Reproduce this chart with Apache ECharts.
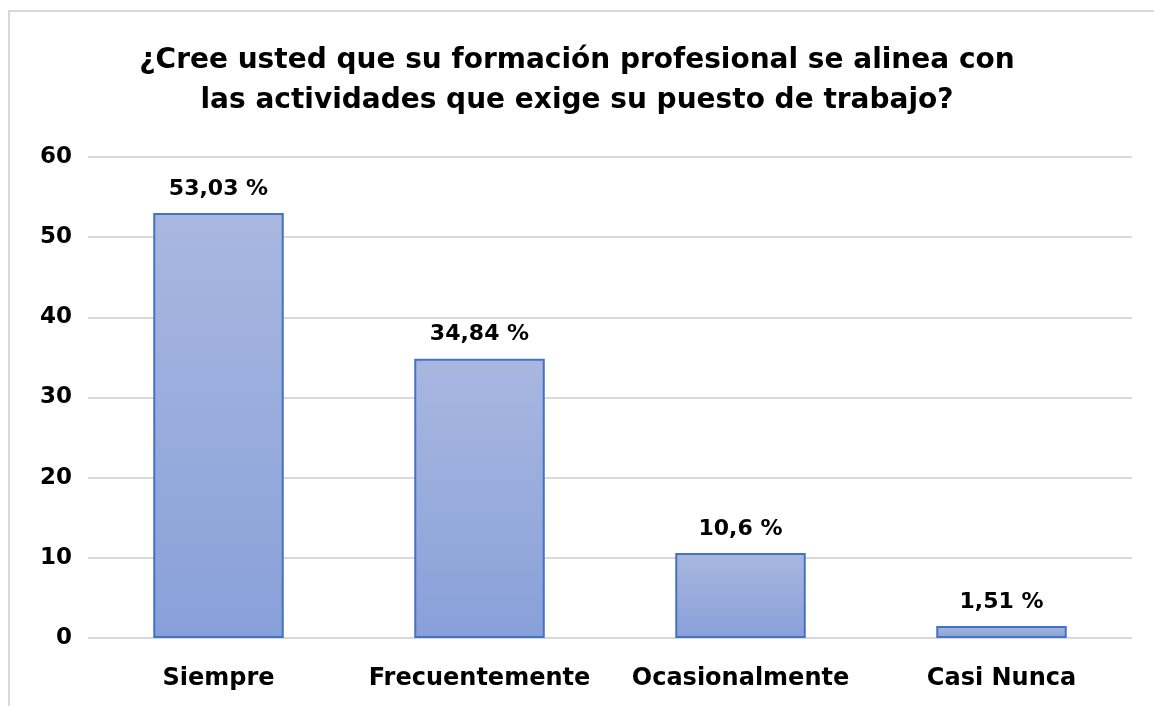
<!DOCTYPE html>
<html>
<head>
<meta charset="utf-8">
<script src="https://cdn.jsdelivr.net/npm/echarts@6/dist/echarts.min.js"></script>
<style>
  html, body { margin: 0; padding: 0; background: #fff; overflow: hidden; }
  #frame { position: absolute; left: 8px; top: 10px; width: 1200px; height: 760px; border: 2px solid #d9d9d9; box-sizing: border-box; }
  #chart { position: absolute; left: 0; top: 0; width: 1154px; height: 706px; }
</style>
</head>
<body>
<div id="frame"></div>
<div id="chart"></div>
<script>
const categories = ['Siempre', 'Frecuentemente', 'Ocasionalmente', 'Casi Nunca']
const values = [53.03, 34.84, 10.6, 1.51]
const valueLabels = ['53,03 %', '34,84 %', '10,6 %', '1,51 %']
const titleLines = [
  '¿Cree usted que su formación profesional se alinea con',
  'las actividades que exige su puesto de trabajo?'
]

const font = "'DejaVu Sans', sans-serif"
const chart = echarts.init(document.getElementById('chart'))

chart.setOption({
  animation: false,
  title: {
    text: titleLines.join('\n'),
    left: 'center',
    top: 36,
    textStyle: { fontFamily: font, fontSize: 28, fontWeight: 'bold', color: '#000', lineHeight: 40 }
  },
  grid: { left: 88, right: 22, top: 157, bottom: 68 },
  xAxis: {
    type: 'category',
    data: categories,
    axisLine: { show: false },
    axisTick: { show: false },
    axisLabel: { interval: 0, fontFamily: font, fontSize: 24, fontWeight: 'bold', color: '#000', margin: 29 }
  },
  yAxis: {
    type: 'value',
    min: 0,
    max: 60,
    interval: 10,
    axisLabel: { fontFamily: font, fontSize: 23, fontWeight: 'bold', color: '#000', margin: 16 },
    splitLine: { lineStyle: { color: '#d9d9d9', width: 2 } }
  },
  series: [{
    type: 'bar',
    data: values,
    barWidth: '50%',
    itemStyle: {
      color: new echarts.graphic.LinearGradient(0, 0, 0, 1, [
        { offset: 0, color: '#a9b7e0' },
        { offset: 1, color: '#88a0d9' }
      ]),
      borderColor: '#4472c4',
      borderWidth: 2
    },
    label: {
      show: true,
      position: 'top',
      distance: 13,
      fontFamily: font,
      fontSize: 22,
      fontWeight: 'bold',
      color: '#000',
      formatter: p => valueLabels[p.dataIndex]
    }
  }]
})
</script>
</body>
</html>
